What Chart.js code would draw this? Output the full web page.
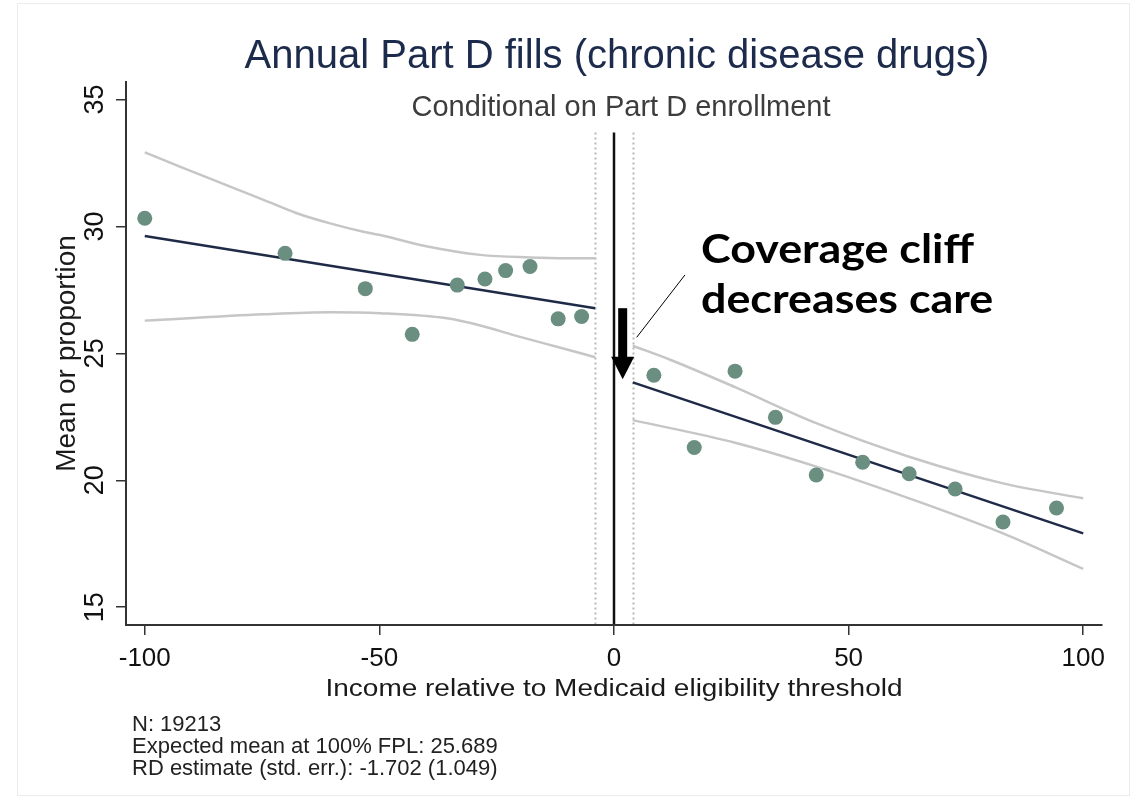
<!DOCTYPE html>
<html>
<head>
<meta charset="utf-8">
<script src="https://cdn.jsdelivr.net/npm/chart.js@4.4.1/dist/chart.umd.min.js"></script>
<style>
  html, body { margin: 0; padding: 0; background: #ffffff; }
  canvas { display: block; }
</style>
</head>
<body>
<canvas id="rd" width="1140" height="806"></canvas>
<script>
// Binned means of annual chronic-disease Part D fills by income (% relative to the threshold)
const binIncomeBelow = [-100, -70.1, -53, -43, -33.4, -27.5, -23.1, -17.9, -11.9, -6.9];
const binMeanBelow   = [30.32, 28.94, 27.55, 25.75, 27.69, 27.93, 28.26, 28.42, 26.36, 26.45];
const binIncomeAbove = [8.5, 17.1, 25.8, 34.4, 43.1, 53, 62.9, 72.7, 82.9, 94.3];
const binMeanAbove   = [24.14, 21.29, 24.3, 22.48, 20.21, 20.71, 20.26, 19.66, 18.36, 18.91];

// Fitted regression lines on each side of the cutoff
const fitIncomeBelow = [-100, -4];
const fitBelow       = [29.62, 26.78];
const fitIncomeAbove = [4, 100];
const fitAbove       = [23.86, 17.91];

// Confidence band edges
const ciUpperIncomeBelow = [-100, -92.4, -81.8, -74.7, -67.6, -60.5, -53.4, -49.8, -40, -28.5, -17.9, -10, -4];
const ciUpperBelow       = [32.92, 32.35, 31.57, 31.05, 30.52, 30.12, 29.79, 29.66, 29.22, 28.88, 28.78, 28.75, 28.75];
const ciLowerIncomeBelow = [-100, -74.7, -60.5, -49.8, -35.6, -28.5, -21.4, -12.2, -4];
const ciLowerBelow       = [26.29, 26.54, 26.62, 26.58, 26.38, 26.1, 25.72, 25.26, 24.85];
const ciUpperIncomeAbove = [4, 12.1, 25.8, 43.1, 62.9, 82.9, 100];
const ciUpperAbove       = [25.30, 24.74, 23.67, 22.25, 20.93, 19.88, 19.29];
const ciLowerIncomeAbove = [4, 25.8, 43.1, 62.9, 82.9, 100];
const ciLowerAbove       = [22.37, 21.48, 20.54, 19.29, 17.91, 16.51];

// Cutoff and bandwidth edges
const cutoff = 0;
const bandEdges = [-4, 4];
const refLineTop = 33.7;

// Axis ticks
const xTicks = [-100, -50, 0, 50, 100];
const yTicks = [15, 20, 25, 30, 35];

// Text
const titleText = 'Annual Part D fills (chronic disease drugs)';
const subtitleText = 'Conditional on Part D enrollment';
const xTitle = 'Income relative to Medicaid eligibility threshold';
const yTitle = 'Mean or proportion';
const noteLines = ['N: 19213', 'Expected mean at 100% FPL: 25.689', 'RD estimate (std. err.): -1.702 (1.049)'];
const calloutLines = ['Coverage cliff', 'decreases care'];

const zip = (xs, ys) => xs.map((v, i) => ({ x: v, y: ys[i] }));

const SANS = '"Liberation Sans", Arial, Helvetica, sans-serif';
const POINT = '#6a8e80';
const FIT = '#1f2a47';
const BAND = '#c6c6c6';

// Callout geometry in data units
const callout = {
  arrow: { x: 1.85, from: 26.78, headStart: 24.87, to: 23.98 },
  leader: { x1: 4.83, y1: 25.63, x2: 15.12, y2: 28.09 }
};

const decor = {
  id: 'decor',
  beforeDatasetsDraw(chart) {
    const { ctx, scales: { x, y }, chartArea } = chart;
    const top = y.getPixelForValue(refLineTop);
    const bottom = chartArea.bottom - 1;
    ctx.save();
    ctx.strokeStyle = '#b8b8b8';
    ctx.lineWidth = 2;
    ctx.setLineDash([2, 3]);
    bandEdges.forEach(v => {
      const px = Math.round(x.getPixelForValue(v)) + 0.5;
      ctx.beginPath(); ctx.moveTo(px, top); ctx.lineTo(px, bottom); ctx.stroke();
    });
    ctx.setLineDash([]);
    ctx.strokeStyle = '#111111';
    ctx.lineWidth = 2.5;
    const cx = x.getPixelForValue(cutoff);
    ctx.beginPath(); ctx.moveTo(cx, top); ctx.lineTo(cx, bottom); ctx.stroke();
    ctx.restore();
  },
  afterDraw(chart) {
    const { ctx, scales: { x, y }, chartArea } = chart;
    ctx.save();
    // faint outer frame of the graph region
    ctx.strokeStyle = '#ececec';
    ctx.lineWidth = 1;
    ctx.strokeRect(17.5, 3.5, 1112, 792);

    // titles
    ctx.textAlign = 'center';
    ctx.textBaseline = 'alphabetic';
    ctx.fillStyle = '#1c2a4c';
    ctx.font = '40px ' + SANS;
    ctx.fillText(titleText, 617, 68);
    ctx.fillStyle = '#3d3d3d';
    ctx.font = '29px ' + SANS;
    ctx.fillText(subtitleText, 621, 116);

    // x axis title, set slightly wide
    ctx.fillStyle = '#1a1a1a';
    ctx.font = '23px ' + SANS;
    const xMid = (chartArea.left + chartArea.right) / 2;
    const w = ctx.measureText(xTitle).width;
    ctx.save();
    ctx.translate(xMid, 696);
    ctx.scale(577 / w, 1);
    ctx.fillText(xTitle, 0, 0);
    ctx.restore();

    // y axis title
    ctx.save();
    ctx.font = '28px ' + SANS;
    ctx.translate(75, (chartArea.top + chartArea.bottom) / 2);
    ctx.rotate(-Math.PI / 2);
    ctx.fillText(yTitle, 0, 0);
    ctx.restore();

    // notes
    ctx.textAlign = 'left';
    ctx.font = '22px ' + SANS;
    ctx.fillStyle = '#222222';
    noteLines.forEach((t, i) => ctx.fillText(t, 132, 731 + i * 22));

    // callout text, widened to the heading's set width
    ctx.fillStyle = '#000000';
    ctx.font = 'bold 40px Lato, "Open Sans", sans-serif';
    const cw = ctx.measureText(calloutLines[0]).width;
    const sx = 273 / cw;
    calloutLines.forEach((t, i) => {
      ctx.save();
      ctx.translate(701, 263 + i * 50);
      ctx.scale(sx, 1);
      ctx.fillText(t, 0, 0);
      ctx.restore();
    });

    // leader line
    const L = callout.leader;
    ctx.strokeStyle = '#000000';
    ctx.lineWidth = 1;
    ctx.beginPath();
    ctx.moveTo(x.getPixelForValue(L.x1), y.getPixelForValue(L.y1));
    ctx.lineTo(x.getPixelForValue(L.x2), y.getPixelForValue(L.y2));
    ctx.stroke();

    // down arrow
    const A = callout.arrow;
    const ax = x.getPixelForValue(A.x);
    ctx.fillStyle = '#000000';
    ctx.fillRect(ax - 4.5, y.getPixelForValue(A.from), 9, y.getPixelForValue(A.headStart) - y.getPixelForValue(A.from) + 1);
    ctx.beginPath();
    ctx.moveTo(ax - 11.5, y.getPixelForValue(A.headStart));
    ctx.lineTo(ax + 11.5, y.getPixelForValue(A.headStart));
    ctx.lineTo(ax, y.getPixelForValue(A.to));
    ctx.closePath();
    ctx.fill();
    ctx.restore();
  }
};

const lineSet = (data, color, width, smooth) => ({
  data, showLine: true, pointRadius: 0, borderColor: color, borderWidth: width,
  cubicInterpolationMode: smooth ? 'monotone' : 'default', tension: 0, fill: false
});

const pointSet = data => ({
  data, showLine: false, pointRadius: 7.5, pointBorderWidth: 0,
  backgroundColor: POINT, borderColor: POINT
});

new Chart(document.getElementById('rd'), {
  type: 'scatter',
  data: {
    datasets: [
      pointSet(zip(binIncomeBelow, binMeanBelow)),
      pointSet(zip(binIncomeAbove, binMeanAbove)),
      lineSet(zip(fitIncomeBelow, fitBelow), FIT, 2.5, false),
      lineSet(zip(fitIncomeAbove, fitAbove), FIT, 2.5, false),
      lineSet(zip(ciUpperIncomeBelow, ciUpperBelow), BAND, 2.5, true),
      lineSet(zip(ciLowerIncomeBelow, ciLowerBelow), BAND, 2.5, true),
      lineSet(zip(ciUpperIncomeAbove, ciUpperAbove), BAND, 2.5, true),
      lineSet(zip(ciLowerIncomeAbove, ciLowerAbove), BAND, 2.5, true)
    ]
  },
  options: {
    responsive: false,
    animation: false,
    events: [],
    layout: { padding: { top: 82, right: 38, left: 0, bottom: 0 } },
    plugins: { legend: { display: false }, tooltip: { enabled: false } },
    scales: {
      x: {
        type: 'linear', min: -104, max: 104,
        afterBuildTicks: s => { s.ticks = xTicks.map(v => ({ value: v })); },
        afterFit: s => { s.height = 181; },
        grid: { drawOnChartArea: false, drawTicks: true, tickLength: 10, color: '#333333', lineWidth: 1.5 },
        border: { display: true, color: '#333333', width: 2 },
        ticks: { font: { family: SANS, size: 26 }, color: '#111111', padding: 8, minRotation: 0, maxRotation: 0,
                 callback: v => String(v) }
      },
      y: {
        type: 'linear', min: 14.3, max: 35.69,
        afterBuildTicks: s => { s.ticks = yTicks.map(v => ({ value: v })); },
        afterFit: s => { s.width = 126; },
        grid: { drawOnChartArea: false, drawTicks: true, tickLength: 10, color: '#333333', lineWidth: 1.5 },
        border: { display: true, color: '#333333', width: 2 },
        ticks: { font: { family: SANS, size: 27 }, color: '#111111', padding: 5, minRotation: 90, maxRotation: 90,
                 crossAlign: 'center', callback: v => String(v) }
      }
    }
  },
  plugins: [decor]
});
</script>
</body>
</html>
